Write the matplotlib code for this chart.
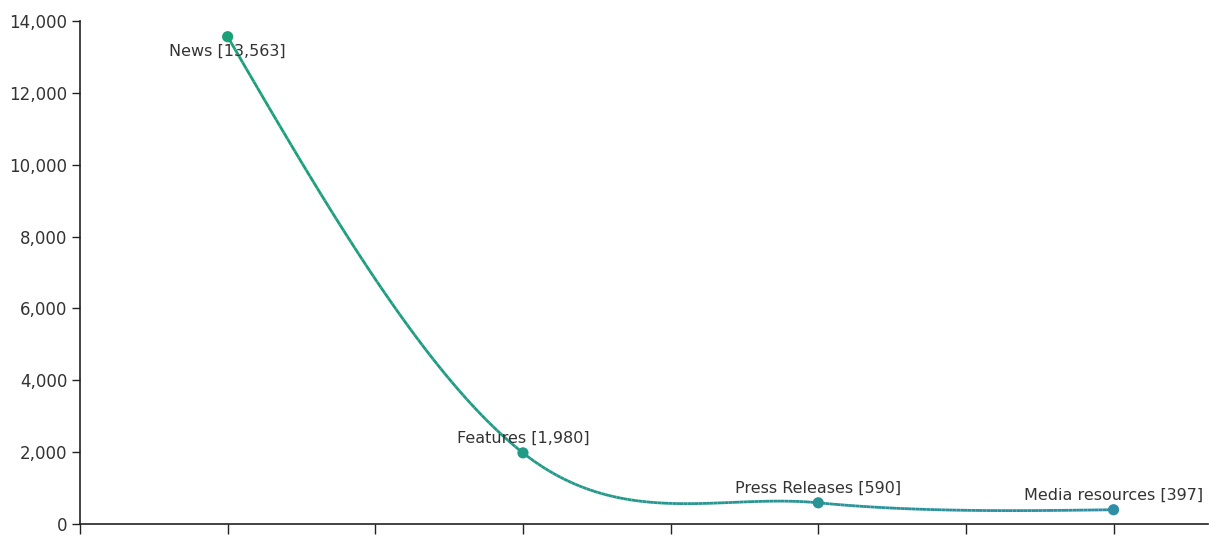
import numpy as np
import matplotlib.pyplot as plt
from matplotlib.collections import LineCollection
from matplotlib.colors import LinearSegmentedColormap
from matplotlib.ticker import FuncFormatter

plt.rcParams['font.family'] = ['DejaVu Sans']

categories = ['News', 'Features', 'Press Releases', 'Media resources']
values = [13563, 1980, 590, 397]
x_pos = [1, 2, 3, 4]


def smooth_curve(xs, ys, n=80):
    # cardinal tangents inside, "natural" tangents at both ends
    xs = np.asarray(xs, float)
    ys = np.asarray(ys, float)
    m = np.zeros_like(ys)
    m[1:-1] = (ys[2:] - ys[:-2]) / (xs[2:] - xs[:-2])
    m[0] = (3 * (ys[1] - ys[0]) / (xs[1] - xs[0]) - m[1]) / 2
    m[-1] = (3 * (ys[-1] - ys[-2]) / (xs[-1] - xs[-2]) - m[-2]) / 2
    out_x, out_y = [], []
    for i in range(len(xs) - 1):
        h = xs[i + 1] - xs[i]
        t = np.linspace(0, 1, n)
        h00 = 2 * t**3 - 3 * t**2 + 1
        h10 = t**3 - 2 * t**2 + t
        h01 = -2 * t**3 + 3 * t**2
        h11 = t**3 - t**2
        out_x.append(xs[i] + t * h)
        out_y.append(h00 * ys[i] + h10 * h * m[i] + h01 * ys[i + 1] + h11 * h * m[i + 1])
    return np.concatenate(out_x), np.concatenate(out_y)


fig = plt.figure(figsize=(12.17, 5.37), dpi=100)
ax = fig.add_axes([80 / 1217, 13 / 537, 1128 / 1217, 503 / 537])

cmap = LinearSegmentedColormap.from_list('tealgreen', ['#1ca078', '#2f8ea5'])

cx, cy = smooth_curve(x_pos, values)
pts = np.column_stack([cx, cy]).reshape(-1, 1, 2)
segs = np.concatenate([pts[:-1], pts[1:]], axis=1)
lc = LineCollection(segs, cmap=cmap, linewidth=2.0, zorder=2)
lc.set_array((cx[:-1] - x_pos[0]) / (x_pos[-1] - x_pos[0]))
ax.add_collection(lc)

mcol = [cmap((x - x_pos[0]) / (x_pos[-1] - x_pos[0])) for x in x_pos]
ax.scatter(x_pos, values, s=65, c=mcol, zorder=3, linewidths=0)

for i, (x, v, name) in enumerate(zip(x_pos, values, categories)):
    label = f'{name} [{v:,}]'
    if i == 0:
        ax.annotate(label, (x, v), xytext=(0, -5), textcoords='offset points',
                    ha='center', va='top', fontsize=11.5, color='#333333')
    else:
        ax.annotate(label, (x, v), xytext=(0, 5), textcoords='offset points',
                    ha='center', va='bottom', fontsize=11.5, color='#333333')

ax.set_xlim(0.5, 0.5 + 1128 / 295.3)
ax.set_ylim(0, 14000)
ax.set_xticks(np.arange(0.5, 4.01, 0.5))
ax.set_xticklabels([])
ax.set_yticks(np.arange(0, 14001, 2000))
ax.yaxis.set_major_formatter(FuncFormatter(lambda v, p: f'{int(v):,}'))
ax.tick_params(axis='both', direction='out', length=6, width=1, color='#222222',
               labelsize=12, labelcolor='#333333', pad=3)
ax.tick_params(axis='x', length=7)
for side in ['top', 'right']:
    ax.spines[side].set_visible(False)
for side in ['left', 'bottom']:
    ax.spines[side].set_color('#222222')
    ax.spines[side].set_linewidth(1.2)

fig.savefig('out.png', dpi=100)
